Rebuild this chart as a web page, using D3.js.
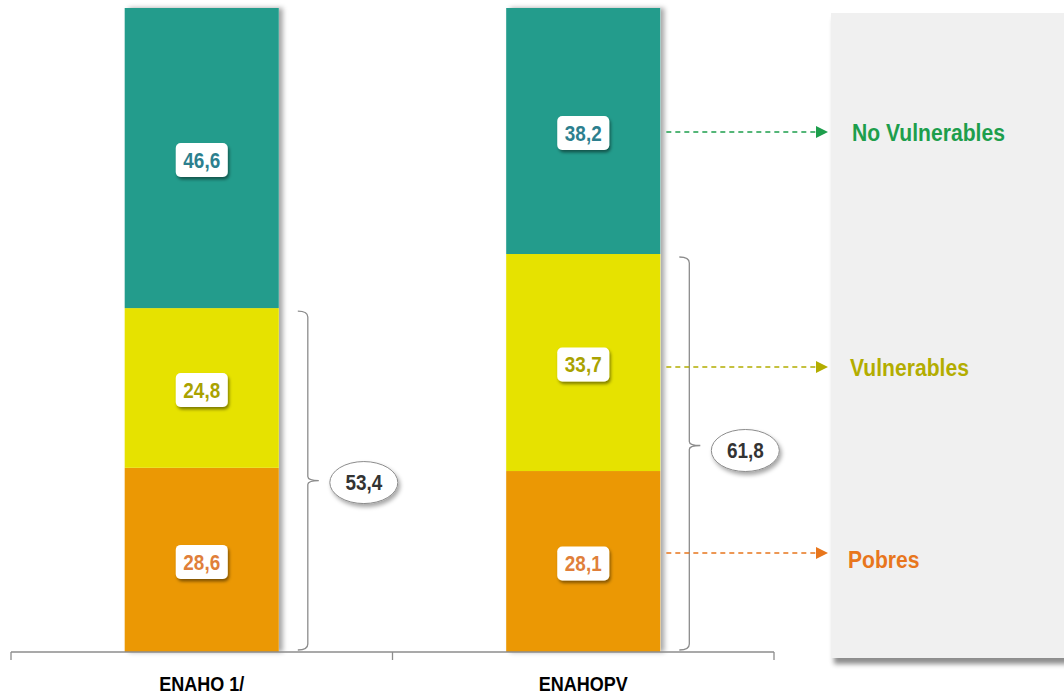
<!DOCTYPE html>
<html><head><meta charset="utf-8">
<script src="https://cdn.jsdelivr.net/npm/d3@7"></script>
<style>
html,body{margin:0;padding:0;background:#fff;}
svg{display:block;font-family:"Liberation Sans","Arial",sans-serif;}
</style></head><body>
<svg id="chart" width="1064" height="696"></svg>
<script>
const categories = ["ENAHO 1/", "ENAHOPV"];
const seriesNames = ["Pobres", "Vulnerables", "No Vulnerables"];
const pobres = [28.6, 28.1];
const vulnerables = [24.8, 33.7];
const noVulnerables = [46.6, 38.2];
const bracketTotals = [53.4, 61.8];
const fmt = v => v.toFixed(1).replace(".", ",");

const fills = {"Pobres":"#eb9804","Vulnerables":"#e6e200","No Vulnerables":"#239c8c"};
const labelColors = {"Pobres":"#e07f3a","Vulnerables":"#a9a200","No Vulnerables":"#2c7f8e"};
const legendColors = {"Pobres":"#e8761c","Vulnerables":"#b3ad00","No Vulnerables":"#1d9e4c"};

const svg = d3.select("#chart");
const defs = svg.append("defs");
const sh = defs.append("filter").attr("id","barShadow").attr("x","-10%").attr("y","-10%").attr("width","130%").attr("height","120%");
sh.append("feDropShadow").attr("dx",4).attr("dy",0).attr("stdDeviation",2.5).attr("flood-color","#000").attr("flood-opacity",0.35);
const ls = defs.append("filter").attr("id","lblShadow").attr("x","-30%").attr("y","-30%").attr("width","160%").attr("height","170%");
ls.append("feDropShadow").attr("dx",1.5).attr("dy",2.5).attr("stdDeviation",1.5).attr("flood-color","#000").attr("flood-opacity",0.45);
const ps = defs.append("filter").attr("id","panelShadow").attr("x","-5%").attr("y","-5%").attr("width","115%").attr("height","115%");
ps.append("feDropShadow").attr("dx",3).attr("dy",6).attr("stdDeviation",2.5).attr("flood-color","#000").attr("flood-opacity",0.45);
const es = defs.append("filter").attr("id","ellShadow").attr("x","-30%").attr("y","-30%").attr("width","170%").attr("height","180%");
es.append("feDropShadow").attr("dx",2).attr("dy",3).attr("stdDeviation",2).attr("flood-color","#000").attr("flood-opacity",0.35);
Object.keys(legendColors).forEach((k,i)=>{
  defs.append("marker").attr("id","arr"+i).attr("viewBox","0 0 10 10").attr("refX",10).attr("refY",5)
    .attr("markerWidth",12).attr("markerHeight",12).attr("markerUnits","userSpaceOnUse").attr("orient","auto")
    .append("path").attr("d","M0,0L10,5L0,10Z").attr("fill",legendColors[k]);
});

// condensed text helper
function ctext(parent, tx, ty, str, size, sx, color, anchor){
  return parent.append("text").attr("transform",`translate(${tx},${ty}) scale(${sx},1)`)
    .attr("text-anchor",anchor||"middle").attr("dy","0.36em").attr("font-size",size)
    .attr("font-weight","bold").attr("fill",color).text(str);
}

// legend panel
svg.append("rect").attr("x",831).attr("y",13).attr("width",260).attr("height",645)
  .attr("fill","#f0f0f0").attr("filter","url(#panelShadow)");

const x = d3.scaleBand().domain(categories).range([11, 774]).padding(0);
const y = d3.scaleLinear().domain([0, 100]).range([652, 8]);
const barW = x.bandwidth() * 0.404;

const data = categories.map((c,i)=>({cat:c, "Pobres":pobres[i], "Vulnerables":vulnerables[i], "No Vulnerables":noVulnerables[i]}));
const stacked = d3.stack().keys(seriesNames)(data);

// bars
const barG = svg.append("g");
categories.forEach((c,i)=>{
  const cx = x(c) + x.bandwidth()/2;
  barG.append("rect").attr("x",cx-barW/2).attr("y",y(100)).attr("width",barW).attr("height",y(0)-y(100))
    .attr("fill","#fff").attr("filter","url(#barShadow)");
});
stacked.forEach(layer=>{
  layer.forEach((d,i)=>{
    const cx = x(categories[i]) + x.bandwidth()/2;
    barG.append("rect").attr("x",cx-barW/2).attr("y",y(d[1])).attr("width",barW).attr("height",y(d[0])-y(d[1]))
      .attr("fill",fills[layer.key]);
  });
});
// value labels
stacked.forEach(layer=>{
  layer.forEach((d,i)=>{
    const cx = x(categories[i]) + x.bandwidth()/2;
    const cy = (y(d[0]) + y(d[1]))/2 + 2;
    const g = svg.append("g").attr("transform",`translate(${cx},${cy})`);
    g.append("rect").attr("x",-26).attr("y",-17).attr("width",52).attr("height",34).attr("rx",5)
      .attr("fill","#fff").attr("filter","url(#lblShadow)");
    ctext(g, 0, 0, fmt(d.data[layer.key]), 22, 0.86, labelColors[layer.key]);
  });
});

// brackets
categories.forEach((c,i)=>{
  const x0 = x(c) + x.bandwidth()/2 + barW/2 + 29;
  const top = y(pobres[i] + vulnerables[i]) + 3, bot = y(0) - 2;
  const mid = (top + bot)/2 + (i===0?0:-8);
  const path = `M${x0-10},${top} Q${x0},${top} ${x0},${top+6} L${x0},${mid-4} Q${x0},${mid} ${x0+11},${mid} Q${x0},${mid} ${x0},${mid+4} L${x0},${bot-6} Q${x0},${bot} ${x0-10},${bot}`;
  svg.append("path").attr("d",path).attr("fill","none").attr("stroke","#8c8c8c").attr("stroke-width",1.3);
  const ex = x0 + 56, ey = mid + (i===0?2:5);
  svg.append("ellipse").attr("cx",ex).attr("cy",ey).attr("rx",34).attr("ry",21)
    .attr("fill","#fff").attr("stroke","#8c8c8c").attr("stroke-width",1).attr("filter","url(#ellShadow)");
  ctext(svg, ex, ey, fmt(bracketTotals[i]), 22, 0.86, "#333");
});

// axis
const axisG = svg.append("g").attr("transform",`translate(0,${y(0)})`);
axisG.append("line").attr("x1",x.range()[0]).attr("x2",x.range()[1]).attr("stroke","#8c8c8c").attr("stroke-width",1.3);
const bounds = categories.map(c=>x(c)).concat([x(categories[categories.length-1]) + x.bandwidth()]);
axisG.selectAll(".tk").data(bounds).join("line").attr("x1",d=>d).attr("x2",d=>d).attr("y1",0).attr("y2",8)
  .attr("stroke","#8c8c8c").attr("stroke-width",1.3);
const ax = d3.axisBottom(x).tickSize(0).tickPadding(0).tickFormat(()=> "");
const axg = axisG.append("g").call(ax);
axg.select(".domain").remove();
axg.selectAll(".tick").each(function(d){
  ctext(d3.select(this), 0, 32, d, 20, 0.9, "#000");
});

// legend arrows + labels
const lastIdx = categories.length - 1;
const legendY = {"No Vulnerables":132, "Vulnerables":367, "Pobres":553};
const legendX = {"No Vulnerables":852, "Vulnerables":850, "Pobres":848};
const xStart = x(categories[lastIdx]) + x.bandwidth()/2 + barW/2 + 6;
seriesNames.slice().reverse().forEach((k)=>{
  const i = Object.keys(legendColors).indexOf(k);
  const ly = legendY[k];
  svg.append("line").attr("x1",xStart).attr("x2",828).attr("y1",ly).attr("y2",ly)
    .attr("stroke",legendColors[k]).attr("stroke-width",1.5).attr("stroke-dasharray","5,4")
    .attr("marker-end",`url(#arr${i})`);
  ctext(svg, legendX[k], ly + (k==="Pobres"?6:0), k, 24, 0.88, legendColors[k], "start");
});
</script></body></html>
